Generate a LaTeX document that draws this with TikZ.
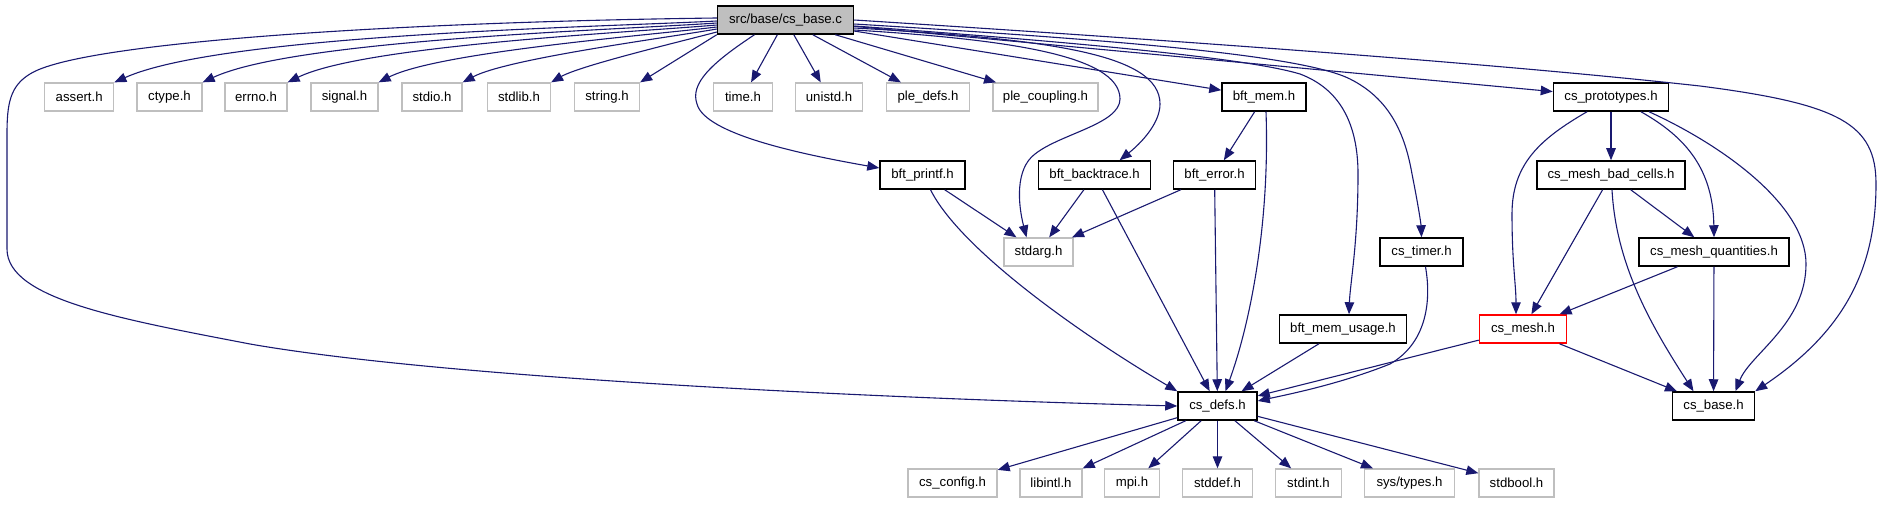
\documentclass[tikz,border=0pt]{standalone}
\usepackage{fontspec}
\setmainfont{Liberation Sans}
\usetikzlibrary{arrows.meta}
\definecolor{edgecol}{HTML}{191970}
\definecolor{extgray}{HTML}{BFBFBF}
\tikzset{
  box/.style={draw=black, line width=1.5pt, fill=white, minimum height=28pt, inner sep=0pt, font=\fontsize{13.2}{15}\selectfont, text=black},
  extbox/.style={box, draw=extgray, line width=1.3pt},
  mainbox/.style={box, fill=extgray},
  redbox/.style={box, draw=red},
  edge/.style={draw=edgecol, line width=1.1pt, -{Triangle[length=12pt,width=9.5pt]}},
}
\begin{document}
\begin{tikzpicture}[x=1pt,y=1pt]
\useasboundingbox (0,0) rectangle (1882,504);
% nodes
\node[mainbox, minimum width=136pt] (base) at (785.5,484) {src/base/cs\_base.c};
\node[extbox, minimum width=69pt] (assert) at (79.2,407) {assert.h};
\node[extbox, minimum width=65pt] (ctype) at (169.5,407) {ctype.h};
\node[extbox, minimum width=62pt] (errno) at (256,407) {errno.h};
\node[extbox, minimum width=67pt] (signal) at (344.5,407) {signal.h};
\node[extbox, minimum width=60pt] (stdio) at (432,407) {stdio.h};
\node[extbox, minimum width=63pt] (stdlib) at (519,407) {stdlib.h};
\node[extbox, minimum width=65pt] (string) at (607,407) {string.h};
\node[extbox, minimum width=59pt] (time) at (743,407) {time.h};
\node[extbox, minimum width=67pt] (unistd) at (829,407) {unistd.h};
\node[extbox, minimum width=83pt] (pledefs) at (928,407) {ple\_defs.h};
\node[extbox, minimum width=105pt] (plecoupling) at (1045.5,407) {ple\_coupling.h};
\node[box, minimum width=84pt] (bftmem) at (1264,407) {bft\_mem.h};
\node[box, minimum width=115pt] (proto) at (1611,407) {cs\_prototypes.h};
\node[box, minimum width=85pt] (printf) at (922.5,329) {bft\_printf.h};
\node[box, minimum width=112pt] (backtrace) at (1094.6,329) {bft\_backtrace.h};
\node[box, minimum width=82pt] (error) at (1214.5,329) {bft\_error.h};
\node[box, minimum width=148pt] (badcells) at (1611,329) {cs\_mesh\_bad\_cells.h};
\node[extbox, minimum width=69pt] (stdarg) at (1038.5,252) {stdarg.h};
\node[box, minimum width=83pt] (timer) at (1421.5,252) {cs\_timer.h};
\node[box, minimum width=150pt] (quant) at (1714,252) {cs\_mesh\_quantities.h};
\node[box, minimum width=127pt] (memusage) at (1343,175) {bft\_mem\_usage.h};
\node[redbox, minimum width=87pt] (mesh) at (1523,175) {cs\_mesh.h};
\node[box, minimum width=79pt] (defs) at (1217.5,98) {cs\_defs.h};
\node[box, minimum width=82pt] (csbase) at (1713.5,98) {cs\_base.h};
\node[extbox, minimum width=89pt] (config) at (952.5,21) {cs\_config.h};
\node[extbox, minimum width=62pt] (libintl) at (1051,21) {libintl.h};
\node[extbox, minimum width=55pt] (mpi) at (1132,21) {mpi.h};
\node[extbox, minimum width=70pt] (stddef) at (1217.5,21) {stddef.h};
\node[extbox, minimum width=66pt] (stdint) at (1308.5,21) {stdint.h};
\node[extbox, minimum width=90pt] (systypes) at (1409.5,21) {sys/types.h};
\node[extbox, minimum width=75pt] (stdbool) at (1516.5,21) {stdbool.h};
% edges from cs_base.c to first row
\draw[edge] ([yshift=-1]base.west) to[out=183,in=24,looseness=0.5] (assert.north east);
\draw[edge] ([yshift=-3]base.west) to[out=184,in=25,looseness=0.5] (ctype.north east);
\draw[edge] ([yshift=-5]base.west) to[out=185,in=26,looseness=0.5] (errno.north east);
\draw[edge] ([yshift=-7]base.west) to[out=187,in=27,looseness=0.5] (signal.north east);
\draw[edge] ([yshift=-9]base.west) to[out=190,in=28,looseness=0.5] (stdio.north east);
\draw[edge] ([yshift=-12]base.west) to[out=195,in=30,looseness=0.5] (stdlib.north east);
\draw[edge] (base.south west) -- (string.north east);
\draw[edge] (base) -- (time);
\draw[edge] (base) -- (unistd);
\draw[edge] (base) -- (pledefs);
\draw[edge] (base) -- (plecoupling);
\draw[edge] (base) -- (bftmem);
\draw[edge] (base) -- (proto);
% long curves from cs_base.c
\draw[edge] ([yshift=2]base.west) .. controls (400,482) and (80,462) .. (30,430)
  .. controls (10,418) and (7,400) .. (7,370) -- (7,255)
  .. controls (7,205) and (120,185) .. (250,160)
  .. controls (450,125) and (900,105) .. (defs.west);
\draw[edge] (base.east) .. controls (1200,462) and (1500,440) .. (1700,418)
  .. controls (1840,400) and (1876,380) .. (1876,320)
  .. controls (1876,230) and (1840,170) .. (csbase.north east);
\draw[edge] ([xshift=-31]base.south) .. controls (710,440) and (690,420) .. (697,400)
  .. controls (705,370) and (800,350) .. ([yshift=7]printf.west);
\draw[edge] ([yshift=-10]base.east) .. controls (1000,465) and (1120,450) .. (1120,405)
  .. controls (1120,380) and (1060,370) .. (1035,350)
  .. controls (1015,335) and (1018,300) .. ([xshift=-12]stdarg.north);
\draw[edge] ([yshift=-8]base.east) .. controls (1050,465) and (1160,450) .. (1160,400)
  .. controls (1160,380) and (1140,360) .. ([xshift=25]backtrace.north);
\draw[edge] ([yshift=-6]base.east) .. controls (1100,460) and (1250,445) .. (1300,430)
  .. controls (1340,415) and (1358,380) .. (1358,330)
  .. controls (1358,260) and (1350,220) .. ([xshift=6]memusage.north);
\draw[edge] ([yshift=-4]base.east) .. controls (1100,465) and (1300,450) .. (1350,425)
  .. controls (1390,405) and (1405,370) .. (1412,330)
  .. controls (1418,300) and (1421,280) .. (timer.north);
% bft_mem.h
\draw[edge] (bftmem) -- (error);
\draw[edge] ([xshift=2]bftmem.south) .. controls (1270,280) and (1250,180) .. ([xshift=8]defs.north);
% bft_printf.h
\draw[edge] (printf) -- (stdarg);
\draw[edge] ([xshift=8]printf.south) .. controls (960,255) and (1080,170) .. (defs.north west);
% bft_backtrace.h
\draw[edge] (backtrace) -- (stdarg);
\draw[edge] (backtrace) -- (defs);
% bft_error.h
\draw[edge] (error) -- (stdarg);
\draw[edge] (error) -- (defs);
% bft_mem_usage.h, cs_timer.h, cs_mesh.h
\draw[edge] (memusage) -- (defs);
\draw[edge] ([xshift=4]timer.south) .. controls (1432,200) and (1425,160) .. (1390,140)
  .. controls (1340,120) and (1290,110) .. ([yshift=5]defs.east);
\draw[edge] (mesh) -- (defs);
\draw[edge] (mesh) -- (csbase);
% cs_prototypes.h
\draw[edge] ([xshift=-24]proto.south) .. controls (1540,365) and (1512,340) .. (1512,290)
  .. controls (1512,240) and (1516,220) .. ([xshift=-7]mesh.north);
\draw[edge] (proto) -- (badcells);
\draw[edge] ([xshift=30]proto.south) .. controls (1680,370) and (1713,340) .. (quant.north);
\draw[edge] ([xshift=38]proto.south) .. controls (1720,360) and (1806,300) .. (1806,240)
  .. controls (1806,180) and (1750,150) .. ([xshift=22]csbase.north);
% cs_mesh_bad_cells.h
\draw[edge] (badcells) -- (mesh);
\draw[edge] (badcells) -- (quant);
\draw[edge] ([xshift=1]badcells.south) .. controls (1616,240) and (1650,180) .. ([xshift=-20]csbase.north);
% cs_mesh_quantities.h
\draw[edge] (quant) -- (mesh);
\draw[edge] (quant) -- (csbase);
% cs_defs.h to system headers
\draw[edge] (defs) -- (config);
\draw[edge] (defs) -- (libintl);
\draw[edge] (defs) -- (mpi);
\draw[edge] (defs) -- (stddef);
\draw[edge] (defs) -- (stdint);
\draw[edge] (defs) -- (systypes);
\draw[edge] (defs) -- (stdbool);
\end{tikzpicture}
\end{document}
